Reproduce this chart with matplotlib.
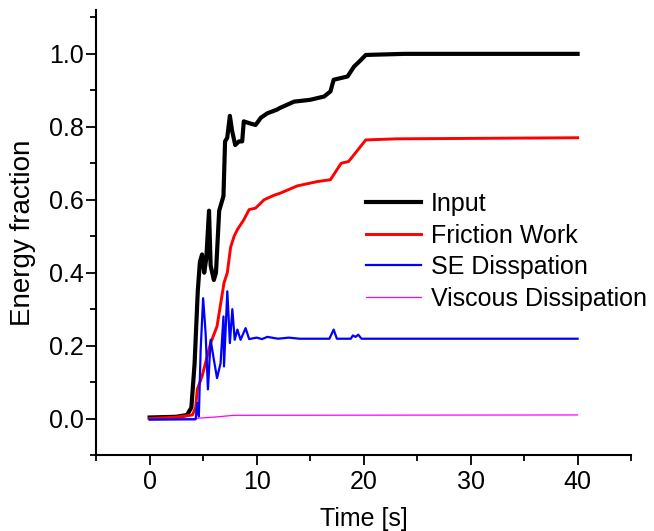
import matplotlib
matplotlib.use("Agg")
import matplotlib.pyplot as plt
from matplotlib.ticker import MultipleLocator

plt.rcParams['font.family'] = ['Liberation Sans', 'DejaVu Sans']

# Input energy
t_in = [0, 2.5, 3.5, 3.9, 4.2, 4.5, 4.7, 4.9, 5.1, 5.3, 5.55, 5.7, 6.0, 6.2, 6.5,
        6.9, 7.05, 7.25, 7.5, 7.7, 8.0, 8.35, 8.65, 8.8, 9.3, 9.9, 10.4, 11.0,
        11.9, 12.2, 13.5, 15.0, 16.3, 16.9, 17.2, 18.5, 19.1, 19.6, 20.2, 23.8, 40]
y_in = [0.003, 0.005, 0.01, 0.03, 0.15, 0.35, 0.43, 0.45, 0.40, 0.44, 0.57, 0.42,
        0.38, 0.40, 0.57, 0.61, 0.76, 0.77, 0.83, 0.79, 0.75, 0.76, 0.76, 0.815,
        0.81, 0.805, 0.825, 0.837, 0.847, 0.852, 0.869, 0.874, 0.883, 0.897,
        0.929, 0.938, 0.965, 0.979, 0.997, 1.0, 1.0]

# Friction work
t_fr = [0, 2.5, 4.0, 4.3, 4.45, 4.9, 5.7, 6.3, 6.95, 7.26, 7.57, 7.9, 8.2, 8.8,
        9.3, 9.9, 10.7, 11.6, 12.2, 13.8, 15.7, 16.9, 17.9, 18.6, 20.2, 23.1, 40]
y_fr = [0, 0.004, 0.01, 0.03, 0.08, 0.116, 0.207, 0.253, 0.372, 0.40, 0.47,
        0.50, 0.518, 0.545, 0.573, 0.577, 0.60, 0.612, 0.618, 0.638, 0.65, 0.655,
        0.70, 0.705, 0.764, 0.767, 0.77]

# SE dissipation
t_se = [0, 4.3, 4.45, 4.6, 4.77, 5.0, 5.23, 5.45, 5.7, 6.0, 6.3, 6.63, 6.9, 6.95,
        7.26, 7.5, 7.73, 7.95, 8.2, 8.5, 8.97, 9.3, 10.0, 10.5, 11.0, 12.0, 13.0,
        14.0, 16.8, 17.2, 17.5, 18.8, 19.0, 19.25, 19.5, 19.8, 20.5, 40]
y_se = [-0.003, -0.002, 0.043, 0.006, 0.19, 0.33, 0.235, 0.08, 0.216, 0.162,
        0.111, 0.152, 0.28, 0.143, 0.349, 0.207, 0.30, 0.216, 0.244, 0.216, 0.248,
        0.218, 0.222, 0.218, 0.224, 0.219, 0.222, 0.219, 0.219, 0.244, 0.219,
        0.219, 0.228, 0.224, 0.23, 0.219, 0.219, 0.219]

# Viscous dissipation
t_vi = [0, 4.0, 6.0, 7.9, 40]
y_vi = [0, 0, 0.004, 0.009, 0.010]

fig = plt.figure(figsize=(6.54, 5.31), dpi=100)
ax = fig.add_axes([0.147, 0.143, 0.818, 0.838])

ax.plot(t_vi, y_vi, color='#ff00ff', lw=0.9, label='Viscous Dissipation', zorder=2)
ax.plot(t_in, y_in, color='black', lw=3.0, label='Input', zorder=3)
ax.plot(t_fr, y_fr, color='red', lw=2.1, label='Friction Work', zorder=4)
ax.plot(t_se, y_se, color='blue', lw=1.6, label='SE Disspation', zorder=5)

ax.set_xlim(-5, 45)
ax.set_ylim(-0.1, 1.12)
ax.xaxis.set_minor_locator(MultipleLocator(5))
ax.yaxis.set_minor_locator(MultipleLocator(0.1))
ax.set_xticks([0, 10, 20, 30, 40])
ax.set_yticks([0.0, 0.2, 0.4, 0.6, 0.8, 1.0])
ax.set_yticklabels(['0.0', '0.2', '0.4', '0.6', '0.8', '1.0'])

for s in ['top', 'right']:
    ax.spines[s].set_visible(False)
for s in ['left', 'bottom']:
    ax.spines[s].set_linewidth(1.5)

ax.tick_params(which='major', direction='out', length=7, width=1.3, labelsize=18)
ax.tick_params(axis='y', which='major', pad=2)
ax.tick_params(axis='x', which='major', pad=4)
ax.tick_params(which='minor', direction='out', length=4, width=1.3)

ax.set_xlabel('Time [s]', fontsize=18, labelpad=9)
ax.set_ylabel('Energy fraction', fontsize=20, labelpad=9)

h, l = ax.get_legend_handles_labels()
order = [1, 2, 3, 0]
ax.legend([h[i] for i in order], [l[i] for i in order], frameon=False,
          fontsize=18, loc='upper left', bbox_to_anchor=(0.544, 0.657),
          bbox_transform=fig.transFigure, handlelength=2.2,
          handletextpad=0.4, labelspacing=0.3, borderaxespad=0)

fig.savefig('out.png', dpi=100)
